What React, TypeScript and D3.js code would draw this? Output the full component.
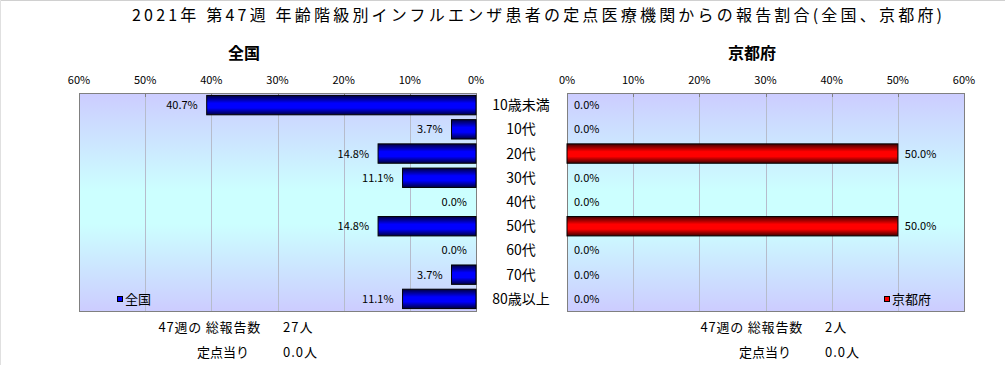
import { useEffect, useRef } from 'react'
import * as d3 from 'd3'

const ageGroups = ['10歳未満', '10代', '20代', '30代', '40代', '50代', '60代', '70代', '80歳以上']
const nationalShare = [40.7, 3.7, 14.8, 11.1, 0.0, 14.8, 0.0, 3.7, 11.1]
const kyotoShare = [0.0, 0.0, 50.0, 0.0, 0.0, 50.0, 0.0, 0.0, 0.0]
const tickValues = [0, 10, 20, 30, 40, 50, 60]
const summaryLabels = ['47週の 総報告数', '定点当り']
const nationalSummary = ['27人', '0.0人']
const kyotoSummary = ['2人', '0.0人']

const FONT = "'Noto Sans CJK JP', 'Noto Sans', sans-serif"

export default function App() {
    const svgRef = useRef<SVGSVGElement>(null)

    useEffect(() => {
        if (!svgRef.current) return
        const svg = d3.select(svgRef.current)
        svg.selectAll('*').remove()

        const width = 1006
        const height = 365
        svg.attr('width', width).attr('height', height)

        const defs = svg.append('defs')

        // plot background: lavender -> cyan -> lavender
        const bg = defs.append('linearGradient').attr('id', 'bgGrad')
            .attr('x1', 0).attr('y1', 0).attr('x2', 0).attr('y2', 1)
        bg.append('stop').attr('offset', '0%').attr('stop-color', '#ccccff')
        bg.append('stop').attr('offset', '45%').attr('stop-color', '#ccffff')
        bg.append('stop').attr('offset', '60%').attr('stop-color', '#ccffff')
        bg.append('stop').attr('offset', '100%').attr('stop-color', '#ccccff')

        // bar gradients, dark edges, bright middle
        const barGrad = (id: string, dark: string, bright: string) => {
            const g = defs.append('linearGradient').attr('id', id)
                .attr('x1', 0).attr('y1', 0).attr('x2', 0).attr('y2', 1)
            g.append('stop').attr('offset', '0%').attr('stop-color', dark)
            g.append('stop').attr('offset', '40%').attr('stop-color', bright)
            g.append('stop').attr('offset', '65%').attr('stop-color', bright)
            g.append('stop').attr('offset', '100%').attr('stop-color', dark)
        }
        barGrad('blueGrad', '#000040', '#0000ff')
        barGrad('redGrad', '#400000', '#ff0000')

        // outer chart frame (only top/left are visible)
        svg.append('line').attr('x1', 0.5).attr('x2', 1005).attr('y1', 0.5).attr('y2', 0.5)
            .attr('stroke', '#d0d0d0')
        svg.append('line').attr('x1', 0.5).attr('x2', 0.5).attr('y1', 0.5).attr('y2', height)
            .attr('stroke', '#e0e0e0')

        // title
        svg.append('text')
            .attr('x', 537).attr('y', 21)
            .attr('text-anchor', 'middle')
            .attr('textLength', 810)
            .attr('lengthAdjust', 'spacing')
            .style('font-family', FONT)
            .style('font-size', '16px')
            .text('2021年 第47週 年齢階級別インフルエンザ患者の定点医療機関からの報告割合(全国、京都府)')

        const top = 93
        const bottom = 311
        const y = d3.scaleBand<string>()
            .domain(ageGroups)
            .range([top, bottom])
            .paddingInner(0.2)
            .paddingOuter(0.1)

        const xL = d3.scaleLinear().domain([60, 0]).range([79, 476])
        const xR = d3.scaleLinear().domain([0, 60]).range([567, 964])

        const drawPanel = (
            x: d3.ScaleLinear<number, number>,
            values: number[],
            side: 'left' | 'right',
            title: string,
            titleX: number,
            grad: string,
            legendColor: string,
            legendX: number,
            summary: string[],
            labelEnd: number,
            valueStart: number,
        ) => {
            const [r0, r1] = x.range()
            const g = svg.append('g')

            g.append('rect')
                .attr('x', r0).attr('y', top)
                .attr('width', r1 - r0).attr('height', bottom - top)
                .attr('fill', 'url(#bgGrad)')

            // grid lines
            g.selectAll('.grid')
                .data(tickValues.filter(t => t !== 0 && t !== 60))
                .enter().append('line')
                .attr('x1', d => Math.round(x(d)) + 0.5).attr('x2', d => Math.round(x(d)) + 0.5)
                .attr('y1', top).attr('y2', bottom)
                .attr('stroke', '#b6bccc')
            g.selectAll('.tick')
                .data(tickValues)
                .enter().append('line')
                .attr('x1', d => Math.round(x(d)) + 0.5).attr('x2', d => Math.round(x(d)) + 0.5)
                .attr('y1', top).attr('y2', top + 4)
                .attr('stroke', '#808080')

            g.append('rect')
                .attr('x', r0 + 0.5).attr('y', top + 0.5)
                .attr('width', r1 - r0).attr('height', bottom - top)
                .attr('fill', 'none')
                .attr('stroke', '#808080')

            // tick labels
            g.selectAll('.tickLabel')
                .data(tickValues)
                .enter().append('text')
                .attr('x', d => x(d)).attr('y', 84)
                .attr('text-anchor', 'middle')
                .style('font-family', FONT)
                .style('font-size', '11px')
                .text(d => `${d}%`)

            // panel title
            g.append('text')
                .attr('x', titleX).attr('y', 59)
                .attr('text-anchor', 'middle')
                .style('font-family', FONT)
                .style('font-size', '16px')
                .style('font-weight', 'bold')
                .text(title)

            // bars (zero values draw nothing)
            const rows = values.map((v, i) => ({ group: ageGroups[i], value: v }))
            g.selectAll('.bar')
                .data(rows.filter(r => r.value > 0))
                .enter().append('rect')
                .attr('x', d => Math.min(x(0), x(d.value)))
                .attr('width', d => Math.abs(x(d.value) - x(0)))
                .attr('y', d => y(d.group)!)
                .attr('height', y.bandwidth())
                .attr('fill', `url(#${grad})`)
                .attr('stroke', '#000')
                .attr('stroke-width', 1)

            // value labels
            g.selectAll('.value')
                .data(rows)
                .enter().append('text')
                .attr('x', d => side === 'left' ? x(d.value) - 9 : x(d.value) + 7)
                .attr('y', d => y(d.group)! + y.bandwidth() / 2 + 4)
                .attr('text-anchor', side === 'left' ? 'end' : 'start')
                .style('font-family', FONT)
                .style('font-size', '11px')
                .text(d => `${d.value.toFixed(1)}%`)

            // legend
            g.append('rect')
                .attr('x', legendX + 0.5).attr('y', 296.5)
                .attr('width', 5).attr('height', 5)
                .attr('fill', legendColor)
                .attr('stroke', '#000')
            g.append('text')
                .attr('x', legendX + 8).attr('y', 304)
                .style('font-family', FONT)
                .style('font-size', '13px')
                .text(title)

            // summary rows
            const rowY = [332, 357]
            summaryLabels.forEach((lbl, i) => {
                g.append('text')
                    .attr('x', i === 0 ? labelEnd : labelEnd - 12).attr('y', rowY[i])
                    .attr('text-anchor', 'end')
                    .style('font-family', FONT)
                    .style('font-size', '13px')
                    .style('letter-spacing', i === 0 ? '0.8px' : '0px')
                    .text(lbl)
                g.append('text')
                    .attr('x', valueStart).attr('y', rowY[i])
                    .style('font-family', FONT)
                    .style('font-size', '13px')
                    .style('letter-spacing', '1px')
                    .text(summary[i])
            })
        }

        drawPanel(xL, nationalShare, 'left', '全国', 244, 'blueGrad', '#0000ff', 117, nationalSummary, 261, 283)
        drawPanel(xR, kyotoShare, 'right', '京都府', 752, 'redGrad', '#ff0000', 884, kyotoSummary, 803, 825)

        // category labels between the panels
        svg.selectAll('.cat')
            .data(ageGroups)
            .enter().append('text')
            .attr('x', 521)
            .attr('y', d => y(d)! + y.bandwidth() / 2 + 5)
            .attr('text-anchor', 'middle')
            .style('font-family', FONT)
            .style('font-size', '14px')
            .text(d => d)
    }, [])

    return (
        <div style={{ position: 'absolute', left: 0, top: 0, background: '#fff' }}>
            <svg ref={svgRef}></svg>
        </div>
    )
}
